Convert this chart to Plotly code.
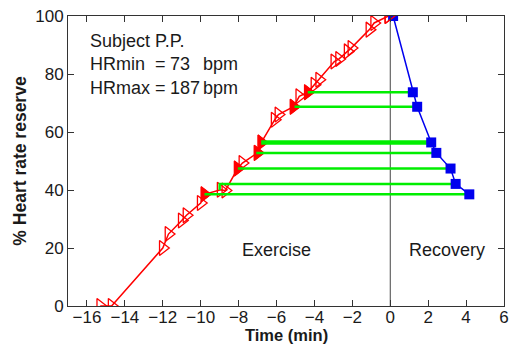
import plotly.graph_objects as go

# Exercise phase (time in min, % HR reserve, filled marker flag)
ex_time = [-15.3, -14.7, -12.0, -11.7, -11.0, -10.75, -10.0, -9.8, -8.95, -8.7,
           -8.05, -7.8, -7.0, -6.8, -6.1, -5.9, -5.1, -4.8, -4.35, -4.0,
           -3.75, -2.95, -2.7, -2.25, -2.05, -1.1, -0.85, -0.1]
ex_hrr = [0, 0, 20.0, 24.8, 29.5, 31.3, 35.5, 38.5, 40.1, 39.8,
          47.4, 49.3, 52.8, 56.4, 64.2, 66.0, 68.7, 72.3, 73.7, 76.3,
          78.0, 84.3, 85.2, 87.8, 89.0, 95.3, 97.6, 100]
ex_filled = [0, 0, 0, 0, 0, 0, 0, 1, 0, 0,
             1, 0, 1, 1, 0, 0, 1, 0, 1, 0,
             0, 0, 0, 0, 0, 0, 0, 0]

# Recovery phase
rec_time = [0.15, 1.19, 1.42, 2.16, 2.43, 3.18, 3.45, 4.17]
rec_hrr = [100, 73.7, 68.7, 56.4, 52.8, 47.4, 42.1, 38.5]

# Matching exercise times for each recovery level
match_ex_time = [-4.35, -5.05, -6.81, -7.07, -8.04, -9.0, -9.8]
match_ex_hrr = [73.7, 68.7, 56.4, 52.8, 47.4, 40.0, 38.5]
match_width = [2.5, 2.5, 4.5, 2.5, 2.5, 2.5, 2.5]

x_ticks = [-16, -14, -12, -10, -8, -6, -4, -2, 0, 2, 4, 6]
y_ticks = [0, 20, 40, 60, 80, 100]

RED = "#ff0000"
BLUE = "#0000ee"
GREEN = "#00ee00"
AX = "#333333"
TXT = "#1a1a1a"

fig = go.Figure()

# vertical line at time 0
fig.add_trace(go.Scatter(x=[0, 0], y=[0, 100], mode="lines",
                         line=dict(color="#444444", width=1), hoverinfo="skip"))

# exercise line + open markers
fig.add_trace(go.Scatter(x=ex_time, y=ex_hrr, mode="lines+markers",
                         line=dict(color=RED, width=1.5),
                         marker=dict(symbol="triangle-right-open", size=13,
                                     color=RED, line=dict(width=1.3, color=RED))))
fx = [t for t, f in zip(ex_time, ex_filled) if f]
fy = [h for h, f in zip(ex_hrr, ex_filled) if f]
fig.add_trace(go.Scatter(x=fx, y=fy, mode="markers",
                         marker=dict(symbol="triangle-right", size=13, color=RED,
                                     line=dict(width=1, color=RED))))

# green matching lines
for xr, yr, xb, yb, w in zip(match_ex_time, match_ex_hrr, rec_time[1:], rec_hrr[1:], match_width):
    if abs(yr - yb) > 0.5:
        xs, ys = [xr, xr, xb], [yr, yb, yb]
    else:
        xs, ys = [xr, xb], [yb, yb]
    fig.add_trace(go.Scatter(x=xs, y=ys, mode="lines",
                             line=dict(color=GREEN, width=w), hoverinfo="skip"))

# recovery
fig.add_trace(go.Scatter(x=rec_time, y=rec_hrr, mode="lines+markers",
                         line=dict(color=BLUE, width=1.5),
                         marker=dict(symbol="square", size=10, color=BLUE,
                                     line=dict(width=0))))
# last exercise marker drawn over the first recovery square
fig.add_trace(go.Scatter(x=ex_time[-1:], y=ex_hrr[-1:], mode="markers",
                         marker=dict(symbol="triangle-right-open", size=13,
                                     color=RED, line=dict(width=1.3, color=RED))))

font = "Liberation Sans, Arial, sans-serif"
info = [
    (-15.97, 91.5, "Subject P.P."),
    (-15.97, 83.5, "HRmin"), (-12.5, 83.5, "="), (-11.7, 83.5, "73"), (-9.96, 83.5, "bpm"),
    (-15.97, 75.3, "HRmax"), (-12.5, 75.3, "="), (-11.7, 75.3, "187"), (-9.96, 75.3, "bpm"),
]
annotations = [dict(xref="x", yref="y", x=x, y=y, text=t,
                    showarrow=False, xanchor="left", yanchor="middle",
                    font=dict(family=font, size=18, color=TXT)) for x, y, t in info]
annotations += [
    dict(xref="x", yref="y", x=-5.99, y=19.4, text="Exercise", showarrow=False,
         font=dict(family=font, size=18, color=TXT)),
    dict(xref="x", yref="y", x=3.0, y=19.4, text="Recovery", showarrow=False,
         font=dict(family=font, size=18, color=TXT)),
    dict(xref="paper", yref="paper", x=0.5, y=-0.1, text="<b>Time (min)</b>",
         showarrow=False, xanchor="center", yanchor="middle", borderpad=0,
         font=dict(family=font, size=16.5, color=TXT)),
]

fig.update_layout(
    width=510, height=345,
    margin=dict(l=68, r=6, t=16, b=39, autoexpand=False),
    paper_bgcolor="white", plot_bgcolor="white",
    showlegend=False,
    annotations=annotations,
    font=dict(family=font, size=17, color=TXT),
)
fig.update_xaxes(range=[-17, 6], tickvals=x_ticks, ticks="inside", ticklen=6,
                 tickcolor=AX, showline=True, linecolor=AX, linewidth=1, mirror="ticks",
                 showgrid=False, zeroline=False, automargin=False,
                 ticklabelstandoff=-4,
                 tickfont=dict(size=17))
fig.update_yaxes(range=[0, 100], tickvals=y_ticks, ticks="inside", ticklen=6,
                 tickcolor=AX, showline=True, linecolor=AX, linewidth=1, mirror="ticks",
                 showgrid=False, zeroline=False, automargin=False,
                 title=dict(text="<b>% Heart rate reserve</b>", font=dict(size=17.5), standoff=4),
                 tickfont=dict(size=17))

fig.write_html("out.html", config={"displayModeBar": False},
               post_script="document.body.style.margin='0px';")
